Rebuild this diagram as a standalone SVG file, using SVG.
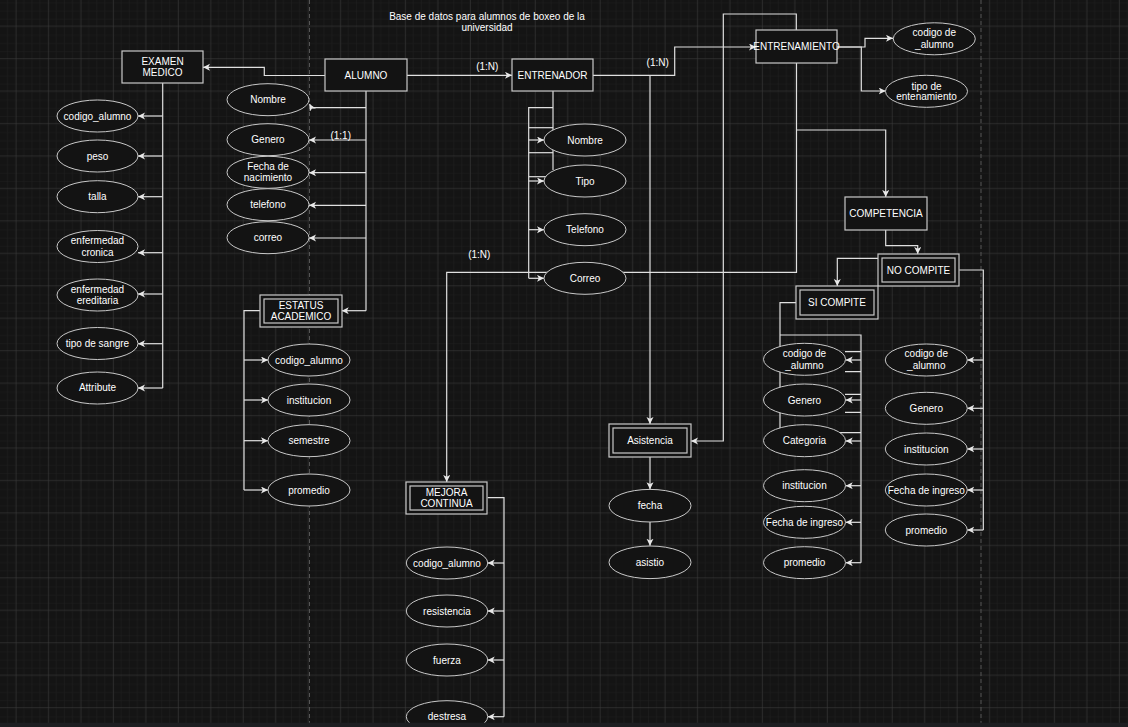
<svg xmlns="http://www.w3.org/2000/svg" width="1128" height="727" viewBox="0 0 1128 727">
<style>
.t{font-family:"Liberation Sans",Arial,sans-serif;font-size:10px;fill:#ffffff;text-anchor:middle;dominant-baseline:central}
.e{fill:#131313;stroke:#c8c8c8;stroke-width:1}
.r{fill:#131313;stroke:#c8c8c8;stroke-width:1.2}
.c{fill:none;stroke:#e0e0e0;stroke-width:1.2}
.a{fill:none;stroke:#e0e0e0;stroke-width:1.2;marker-end:url(#arr)}
.pb{stroke:#555;stroke-width:1;stroke-dasharray:4 3}
</style>
<defs>
<pattern id="minor" width="8.1125" height="8.1125" patternUnits="userSpaceOnUse" x="15.7" y="25.55">
<path d="M8.1125 0H0V8.1125" fill="none" stroke="#1f1f1f" stroke-width="1"/>
</pattern>
<pattern id="major" width="32.45" height="32.45" patternUnits="userSpaceOnUse" x="15.7" y="25.55">
<rect width="32.45" height="32.45" fill="url(#minor)"/>
<path d="M32.45 0H0V32.45" fill="none" stroke="#3a3a3a" stroke-width="1"/>
</pattern>
<marker id="arr" markerUnits="userSpaceOnUse" markerWidth="9" markerHeight="9" refX="7" refY="3.5" orient="auto">
<path d="M0,0 L7,3.5 L0,7 L1.8,3.5 z" fill="#e8e8e8"/>
</marker>
</defs>
<rect width="1128" height="727" fill="#141414"/>
<rect width="1128" height="727" fill="url(#major)"/>
<line class="pb" x1="309.5" y1="0" x2="309.5" y2="727"/>
<line class="pb" x1="981" y1="0" x2="981" y2="727"/>

<text class="t" x="487" y="16.7">Base de datos para alumnos de boxeo de la</text>
<text class="t" x="487" y="27.7">universidad</text>

<g id="connectors">
<path class="a" d="M325,75.5H264.3V67.3H203"/>
<path class="a" d="M407,75.3H512"/>
<path class="a" d="M593,75.3H674.7V47H756"/>
<path class="a" d="M650,75.3V424"/>
<path class="a" d="M796.3,30V14H723.3V441H691"/>
<path class="a" d="M796.5,63V272.3H446.7V482"/>
<path class="a" d="M796.5,130H885.7V197"/>
<path class="a" d="M837,47H865V38.3H893"/>
<path class="a" d="M837,47H861.3V91H885.7"/>
<path class="a" d="M885.7,229.7V245.7H917.7V254"/>
<path class="a" d="M878,258.3H837.3V286"/>
<!-- ALUMNO attributes -->
<path class="c" d="M366,91V310.7"/>
<path class="a" d="M366,310.7H341.7"/>
<path class="c" d="M366,107.7H311.5"/>
<path class="a" d="M311.5,107.7L309.5,104"/>
<path class="a" d="M366,140H309"/>
<path class="a" d="M366,172.7H309"/>
<path class="a" d="M366,205.3H309"/>
<path class="a" d="M366,238H309"/>
<!-- EXAMEN attributes -->
<path class="c" d="M162.7,83V388"/>
<path class="a" d="M162.7,116H138"/>
<path class="a" d="M162.7,156H138"/>
<path class="a" d="M162.7,196.7H138"/>
<path class="a" d="M162.7,252.7H138"/>
<path class="a" d="M162.7,294H138"/>
<path class="a" d="M162.7,343.7H138"/>
<path class="a" d="M162.7,388H138"/>
<!-- ESTATUS attributes -->
<path class="c" d="M260,310.7H244V490"/>
<path class="a" d="M244,360H268"/>
<path class="a" d="M244,400H268"/>
<path class="a" d="M244,440.7H268"/>
<path class="a" d="M244,490H268"/>
<!-- ENTRENADOR attributes -->
<path class="c" d="M553,91V170"/>
<path class="c" d="M553,107.7H528.7V278.3"/>
<path class="c" d="M528.7,127.7H553"/>
<path class="c" d="M528.7,152.7H553"/>
<path class="c" d="M528.7,176.7H553"/>
<path class="a" d="M528.7,140H544"/>
<path class="a" d="M528.7,181H544"/>
<path class="a" d="M528.7,229.7H544"/>
<path class="a" d="M528.7,278.3H544"/>
<!-- Asistencia attributes -->
<path class="a" d="M650,457V489.3"/>
<path class="a" d="M650,522V545.7"/>
<!-- MEJORA attributes -->
<path class="c" d="M487.7,497.7H504V716.7"/>
<path class="a" d="M504,563H487.7"/>
<path class="a" d="M504,611H487.7"/>
<path class="a" d="M504,660H487.7"/>
<path class="a" d="M504,716.7H487.7"/>
<!-- NO COMPITE attributes -->
<path class="c" d="M959.3,270H983.3V530"/>
<path class="a" d="M983.3,360H967.3"/>
<path class="a" d="M983.3,408.3H967.3"/>
<path class="a" d="M983.3,449H967.3"/>
<path class="a" d="M983.3,490H967.3"/>
<path class="a" d="M983.3,530H967.3"/>
<!-- SI COMPITE attributes -->
<path class="c" d="M796,302.7H780V432.7H861"/>
<path class="c" d="M780,335H861V562.7"/>
<path class="c" d="M845,351.7H861M845,371.7H861M845,394.3H861M845,412.3H861"/>
<path class="a" d="M861,360H845.7"/>
<path class="a" d="M861,400H845.7"/>
<path class="a" d="M861,441H845.7"/>
<path class="a" d="M861,485.7H845.7"/>
<path class="a" d="M861,522.3H845.7"/>
<path class="a" d="M861,562.7H845.7"/>
</g>

<g id="labels">
<text class="t" x="340.7" y="135.7">(1:1)</text>
<text class="t" x="487.3" y="66.7">(1:N)</text>
<text class="t" x="657.7" y="62.7">(1:N)</text>
<text class="t" x="479.3" y="254">(1:N)</text>
</g>

<g id="examen-medico"><rect class="r" x="122" y="51" width="81" height="32"/><text class="t" x="162.5" y="61.2">EXAMEN</text><text class="t" x="162.5" y="72.6">MEDICO</text></g>
<g id="alumno"><rect class="r" x="325" y="59" width="82" height="32"/><text class="t" x="366" y="75">ALUMNO</text></g>
<g id="entrenador"><rect class="r" x="512" y="59" width="81" height="32"/><text class="t" x="552.5" y="75">ENTRENADOR</text></g>
<g id="entrenamiento"><rect class="r" x="756" y="30" width="81" height="33"/><text class="t" x="796.5" y="46.5">ENTRENAMIENTO</text></g>
<g id="competencia"><rect class="r" x="845" y="197" width="82" height="33"/><text class="t" x="886" y="213.5">COMPETENCIA</text></g>
<g id="no-compite"><rect class="r" x="878" y="254" width="81" height="32"/><rect class="r" x="882" y="258" width="73" height="24"/><text class="t" x="918.5" y="270">NO COMPITE</text></g>
<g id="si-compite"><rect class="r" x="796" y="286" width="82" height="33"/><rect class="r" x="800" y="290" width="74" height="25"/><text class="t" x="837" y="302.5">SI COMPITE</text></g>
<g id="asistencia"><rect class="r" x="609" y="424" width="82" height="33"/><rect class="r" x="613" y="428" width="74" height="25"/><text class="t" x="650" y="440.5">Asistencia</text></g>
<g id="mejora-continua"><rect class="r" x="406" y="482" width="81" height="32"/><rect class="r" x="410" y="486" width="73" height="24"/><text class="t" x="446.5" y="492.3">MEJORA</text><text class="t" x="446.5" y="503.3">CONTINUA</text></g>
<g id="estatus-academico"><rect class="r" x="260" y="295" width="82" height="32"/><rect class="r" x="264" y="299" width="74" height="24"/><text class="t" x="301" y="305.5">ESTATUS</text><text class="t" x="301" y="316.8">ACADEMICO</text></g>

<g id="em-codigo"><ellipse class="e" cx="97.5" cy="116" rx="40.5" ry="16"/><text class="t" x="97.5" y="116">codigo_alumno</text></g>
<g id="em-peso"><ellipse class="e" cx="97.5" cy="156" rx="40.5" ry="16"/><text class="t" x="97.5" y="156">peso</text></g>
<g id="em-talla"><ellipse class="e" cx="97.5" cy="196.7" rx="40.5" ry="16"/><text class="t" x="97.5" y="196.7">talla</text></g>
<g id="em-cronica"><ellipse class="e" cx="97.5" cy="246.5" rx="40.5" ry="16"/><text class="t" x="97.5" y="240.5">enfermedad</text><text class="t" x="97.5" y="252">cronica</text></g>
<g id="em-ereditaria"><ellipse class="e" cx="97.5" cy="295" rx="40.5" ry="16"/><text class="t" x="97.5" y="289.2">enfermedad</text><text class="t" x="97.5" y="300.7">ereditaria</text></g>
<g id="em-sangre"><ellipse class="e" cx="97.5" cy="343.5" rx="40.5" ry="16"/><text class="t" x="97.5" y="343.7">tipo de sangre</text></g>
<g id="em-attribute"><ellipse class="e" cx="97.5" cy="388" rx="40.5" ry="16"/><text class="t" x="97.5" y="387.7">Attribute</text></g>

<g id="al-nombre"><ellipse class="e" cx="268" cy="99.7" rx="41" ry="16"/><text class="t" x="268" y="99.7">Nombre</text></g>
<g id="al-genero"><ellipse class="e" cx="268" cy="139.7" rx="41" ry="16"/><text class="t" x="268" y="139.7">Genero</text></g>
<g id="al-fecha"><ellipse class="e" cx="268" cy="172.3" rx="41" ry="16"/><text class="t" x="268" y="166.7">Fecha de</text><text class="t" x="268" y="177.9">nacimiento</text></g>
<g id="al-telefono"><ellipse class="e" cx="268" cy="204.7" rx="41" ry="16"/><text class="t" x="268" y="204.7">telefono</text></g>
<g id="al-correo"><ellipse class="e" cx="268" cy="237.7" rx="41" ry="16"/><text class="t" x="268" y="237.7">correo</text></g>

<g id="ea-codigo"><ellipse class="e" cx="309" cy="360" rx="41" ry="16"/><text class="t" x="309" y="360">codigo_alumno</text></g>
<g id="ea-institucion"><ellipse class="e" cx="309" cy="400" rx="41" ry="16"/><text class="t" x="309" y="400">institucion</text></g>
<g id="ea-semestre"><ellipse class="e" cx="309" cy="440.7" rx="41" ry="16"/><text class="t" x="309" y="440.7">semestre</text></g>
<g id="ea-promedio"><ellipse class="e" cx="309" cy="490" rx="41" ry="16"/><text class="t" x="309" y="490">promedio</text></g>

<g id="en-nombre"><ellipse class="e" cx="585" cy="140" rx="41" ry="16"/><text class="t" x="585" y="140">Nombre</text></g>
<g id="en-tipo"><ellipse class="e" cx="585" cy="181" rx="41" ry="16"/><text class="t" x="585" y="181">Tipo</text></g>
<g id="en-telefono"><ellipse class="e" cx="585" cy="229.7" rx="41" ry="16"/><text class="t" x="585" y="229.7">Telefono</text></g>
<g id="en-correo"><ellipse class="e" cx="585" cy="278.3" rx="41" ry="16"/><text class="t" x="585" y="278.3">Correo</text></g>

<g id="et-codigo"><ellipse class="e" cx="934.3" cy="38.8" rx="41" ry="16"/><text class="t" x="934.3" y="32.7">codigo de</text><text class="t" x="934.3" y="44.5">_alumno</text></g>
<g id="et-tipo"><ellipse class="e" cx="926.5" cy="91.3" rx="41" ry="16"/><text class="t" x="926.5" y="86">tipo de</text><text class="t" x="926.5" y="96.9">entenamiento</text></g>

<g id="nc-codigo"><ellipse class="e" cx="926.3" cy="360" rx="41" ry="16"/><text class="t" x="926.3" y="353.8">codigo de</text><text class="t" x="926.3" y="365.7">_alumno</text></g>
<g id="nc-genero"><ellipse class="e" cx="926.3" cy="408.3" rx="41" ry="16"/><text class="t" x="926.3" y="408.3">Genero</text></g>
<g id="nc-institucion"><ellipse class="e" cx="926.3" cy="449" rx="41" ry="16"/><text class="t" x="926.3" y="449">institucion</text></g>
<g id="nc-fecha"><ellipse class="e" cx="926.3" cy="490" rx="41" ry="16"/><text class="t" x="926.3" y="490">Fecha de ingreso</text></g>
<g id="nc-promedio"><ellipse class="e" cx="926.3" cy="530" rx="41" ry="16"/><text class="t" x="926.3" y="530">promedio</text></g>

<g id="sc-codigo"><ellipse class="e" cx="804.5" cy="359.3" rx="41" ry="16"/><text class="t" x="804.5" y="353.5">codigo de</text><text class="t" x="804.5" y="365.5">_alumno</text></g>
<g id="sc-genero"><ellipse class="e" cx="804.5" cy="400" rx="41" ry="16"/><text class="t" x="804.5" y="400">Genero</text></g>
<g id="sc-categoria"><ellipse class="e" cx="804.5" cy="440.7" rx="41" ry="16"/><text class="t" x="804.5" y="440.7">Categoria</text></g>
<g id="sc-institucion"><ellipse class="e" cx="804.5" cy="485.7" rx="41" ry="16"/><text class="t" x="804.5" y="485.7">institucion</text></g>
<g id="sc-fecha"><ellipse class="e" cx="804.5" cy="522.3" rx="41" ry="16"/><text class="t" x="804.5" y="522.3">Fecha de ingreso</text></g>
<g id="sc-promedio"><ellipse class="e" cx="804.5" cy="562.7" rx="41" ry="16"/><text class="t" x="804.5" y="562.7">promedio</text></g>

<g id="as-fecha"><ellipse class="e" cx="650" cy="505.7" rx="41" ry="16.3"/><text class="t" x="650" y="505.7">fecha</text></g>
<g id="as-asistio"><ellipse class="e" cx="650" cy="562.3" rx="41" ry="16.3"/><text class="t" x="650" y="562.3">asistio</text></g>

<g id="mc-codigo"><ellipse class="e" cx="447" cy="563" rx="40.7" ry="16"/><text class="t" x="447" y="563">codigo_alumno</text></g>
<g id="mc-resistencia"><ellipse class="e" cx="447" cy="611" rx="40.7" ry="16"/><text class="t" x="447" y="611">resistencia</text></g>
<g id="mc-fuerza"><ellipse class="e" cx="447" cy="660" rx="40.7" ry="16"/><text class="t" x="447" y="660">fuerza</text></g>
<g id="mc-destresa"><ellipse class="e" cx="447" cy="716.7" rx="40.7" ry="16"/><text class="t" x="447" y="716.7">destresa</text></g>

<rect x="0" y="722.7" width="1128" height="5" fill="#1d1e21"/>
</svg>
